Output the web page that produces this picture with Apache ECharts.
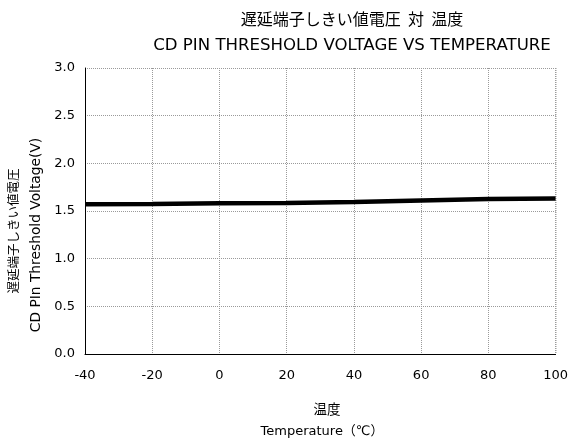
<!DOCTYPE html>
<html>
<head>
<meta charset="utf-8">
<script src="https://cdn.jsdelivr.net/npm/echarts@6/dist/echarts.min.js"></script>
<style>
html,body{margin:0;padding:0;background:#fff;}
#chart{width:571px;height:441px;}
</style>
</head>
<body>
<div id="chart"></div>
<script>
// Threshold voltage of the CD pin across temperature
const temperatures = [-40, -20, 0, 20, 40, 60, 80, 100];
const thresholdVoltage = [1.57, 1.573, 1.58, 1.585, 1.595, 1.61, 1.625, 1.632];
const xTicks = [-40, -20, 0, 20, 40, 60, 80, 100];
const yTicks = [0.0, 0.5, 1.0, 1.5, 2.0, 2.5, 3.0];

const FONT = '"DejaVu Sans", "Noto Sans CJK JP", sans-serif';
const JFONT = '"Noto Sans CJK JP", sans-serif';

const chart = echarts.init(document.getElementById('chart'), null, {renderer: 'canvas'});

const gridLine = {show: true, lineStyle: {color: '#9a9a9a', type: [1, 1], width: 1}};

chart.setOption({
  backgroundColor: '#ffffff',
  animation: false,
  grid: {left: 85, right: 15, top: 68, bottom: 87},
  xAxis: {
    type: 'value',
    min: xTicks[0], max: xTicks[xTicks.length - 1], interval: 20,
    axisLine: {show: true, onZero: false, lineStyle: {color: '#000', width: 1}},
    axisTick: {show: false},
    splitLine: gridLine,
    axisLabel: {color: '#000', fontSize: 13, fontFamily: FONT, margin: 15}
  },
  yAxis: {
    type: 'value',
    min: yTicks[0], max: yTicks[yTicks.length - 1], interval: 0.5,
    axisLine: {show: true, onZero: false, lineStyle: {color: '#000', width: 1}},
    axisTick: {show: false},
    splitLine: gridLine,
    axisLabel: {color: '#000', fontSize: 13, fontFamily: FONT, margin: 10,
      formatter: v => v.toFixed(1)}
  },
  series: [{
    type: 'line',
    data: temperatures.map((t, i) => [t, thresholdVoltage[i]]),
    showSymbol: false,
    lineStyle: {color: '#000', width: 4.5},
    z: 5
  }],
  graphic: [
    // right frame of the plot
    {type: 'line', shape: {x1: 556, y1: 68, x2: 556, y2: 354}, style: {stroke: '#9a9a9a', lineWidth: 1, lineDash: [1, 1]}},
    {type: 'text', x: 352, y: 19, style: {text: '遅延端子しきい値電圧  対  温度', font: '16px ' + JFONT, fill: '#000', align: 'center', verticalAlign: 'middle'}},
    {type: 'text', x: 352, y: 46, style: {text: 'CD PIN THRESHOLD VOLTAGE VS TEMPERATURE', font: '16.6px ' + FONT, fill: '#000', align: 'center', verticalAlign: 'middle'}},
    {type: 'text', x: 327, y: 409, style: {text: '温度', font: '13.5px ' + JFONT, fill: '#000', align: 'center', verticalAlign: 'middle'}},
    {type: 'text', x: 322, y: 432, style: {text: 'Temperature（℃）', font: '13px ' + FONT, fill: '#000', align: 'center', verticalAlign: 'middle'}},
    {type: 'text', x: 13, y: 231, rotation: Math.PI / 2, style: {text: '遅延端子しきい値電圧', font: '12.5px ' + JFONT, fill: '#000', align: 'center', verticalAlign: 'middle'}},
    {type: 'text', x: 36, y: 235, rotation: Math.PI / 2, style: {text: 'CD PIn Threshold Voltage(V)', font: '13.8px ' + FONT, fill: '#000', align: 'center', verticalAlign: 'middle'}}
  ]
});
</script>
</body>
</html>
